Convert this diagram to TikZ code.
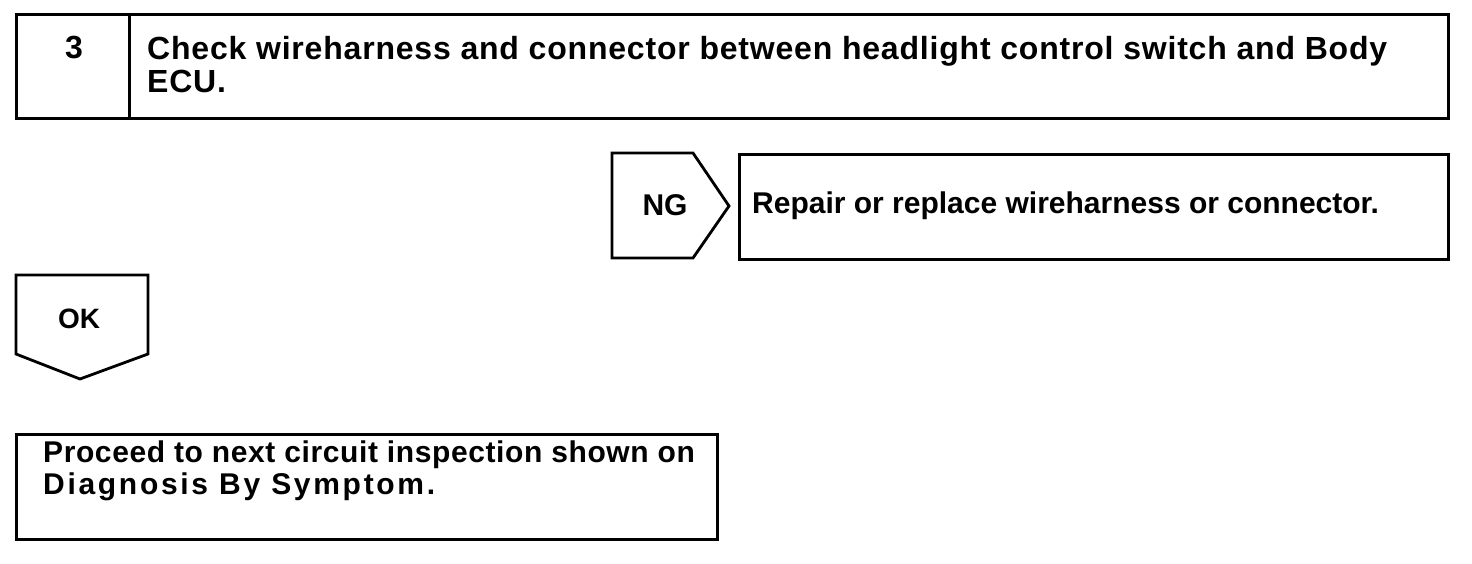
\documentclass[tikz,border=0pt]{standalone}
\usepackage{fontspec}
\setmainfont{Liberation Sans}
\newfontfamily\checkfont[LetterSpace=2.5]{Liberation Sans}
\newfontfamily\proceedfont[LetterSpace=2]{Liberation Sans}
\newfontfamily\widefont[LetterSpace=9]{Liberation Sans}
\usepackage{tikz}
\tikzset{
    % boxes and labels of the check step
    stepbox/.style = {rectangle, draw=black, line width=2.8pt, inner sep=0pt, anchor=north west},
    steptext/.style = {font=\bfseries\fontsize{30}{32}\selectfont, inner sep=0pt, align=left, anchor=base west},
    tagtext/.style = {font=\bfseries\fontsize{30}{32}\selectfont, inner sep=0pt, anchor=base},
    tagline/.style = {draw=black, line width=2.8pt, line join=miter}
}
\begin{document}
\begin{tikzpicture}[x=1pt, y=-1pt]

\useasboundingbox (0,0) rectangle (1472,564);

% Nodes
\node[stepbox, minimum width=113pt, minimum height=104pt] (num_box) at (15,13) {};
\node[stepbox, minimum width=1319pt, minimum height=104pt] (check_box) at (128,13) {};
\node[tagtext, font=\bfseries\fontsize{32}{33}\selectfont] (num_label) at (74,59) {3};
\node[steptext, font=\bfseries\fontsize{32}{33}\selectfont] (check_text) at (147,93) {\checkfont Check wireharness and connector between headlight control switch and Body\\\checkfont ECU.};

\node[stepbox, minimum width=709pt, minimum height=105pt] (repair_box) at (738,153) {};
\node[steptext] (repair_text) at (752,214) {Repair or replace wireharness or connector.};

\node[stepbox, minimum width=701pt, minimum height=105pt] (proceed_box) at (15,433) {};
\node[steptext] (proceed_text) at (43,494) {\proceedfont Proceed to next circuit inspection shown on\\\widefont Diagnosis By Symptom.};

% Tags
\draw[tagline] (612,153) -- (693,153) -- (729,206) -- (693,258) -- (612,258) -- cycle;
\node[tagtext] (ng_label) at (665,215) {NG};
\draw[tagline] (16,275) -- (148,275) -- (148,354) -- (80,379) -- (16,354) -- cycle;
\node[tagtext, font=\bfseries\fontsize{28}{30}\selectfont] (ok_label) at (79,328) {OK};

\end{tikzpicture}
\end{document}
